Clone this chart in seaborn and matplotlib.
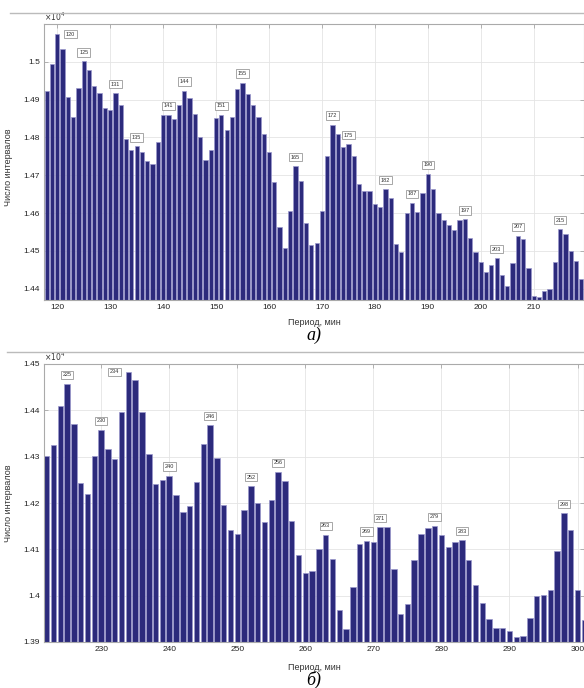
import numpy as np
import matplotlib
matplotlib.use("Agg")
import matplotlib.pyplot as plt
from matplotlib.lines import Line2D
from matplotlib.ticker import FuncFormatter
import seaborn as sns

# --- данные (а): периоды 118..219 мин
periods_a = list(range(118, 220))
counts_a = [14924, 14994, 15073, 15033, 14908, 14853, 14930, 15001, 14978, 14937,
            14917, 14878, 14873, 14917, 14887, 14797, 14768, 14776, 14761, 14737,
            14731, 14787, 14858, 14860, 14848, 14887, 14924, 14904, 14861, 14801,
            14741, 14768, 14852, 14860, 14820, 14855, 14928, 14945, 14915, 14886,
            14853, 14810, 14761, 14682, 14564, 14507, 14606, 14724, 14684, 14573,
            14516, 14520, 14606, 14750, 14834, 14808, 14774, 14782, 14750, 14678,
            14659, 14659, 14624, 14615, 14663, 14639, 14518, 14498, 14599, 14627,
            14603, 14652, 14704, 14663, 14599, 14582, 14568, 14555, 14582, 14583,
            14534, 14498, 14470, 14445, 14463, 14481, 14436, 14406, 14469, 14540,
            14531, 14454, 14381, 14377, 14395, 14399, 14471, 14557, 14544, 14500,
            14472, 14425]
peaks_a = [120, 125, 131, 135, 141, 144, 151, 155, 165, 172, 175, 182, 187, 190,
           197, 203, 207, 215]

# --- данные (б): периоды 222..301 мин
periods_b = list(range(222, 302))
counts_b = [14301, 14326, 14410, 14457, 14371, 14243, 14220, 14301, 14358, 14316,
            14295, 14397, 14483, 14466, 14397, 14305, 14241, 14249, 14259, 14218,
            14180, 14193, 14246, 14328, 14368, 14298, 14196, 14142, 14133, 14184,
            14236, 14201, 14160, 14206, 14267, 14247, 14162, 14088, 14050, 14054,
            14101, 14131, 14079, 13969, 13927, 14018, 14111, 14119, 14116, 14148,
            14148, 14057, 13961, 13982, 14076, 14133, 14147, 14151, 14131, 14104,
            14116, 14120, 14076, 14024, 13985, 13949, 13931, 13931, 13923, 13911,
            13912, 13952, 13999, 14001, 14012, 14097, 14178, 14142, 14013, 13947]
peaks_b = [225, 230, 234, 240, 246, 252, 256, 263, 269, 271, 279, 283, 298]

bar_color = "#2c2a7c"
edge_color = "#9a97cc"

plt.rcParams["font.family"] = ["Liberation Sans", "DejaVu Sans"]

fig = plt.figure(figsize=(5.84, 6.88), dpi=100)
W, H = 584, 688


def px_axes(left, top, right, bottom):
    return fig.add_axes([left / W, 1 - bottom / H, (right - left) / W, (bottom - top) / H])


def draw_panel(ax, periods, counts, peaks, xlim, ylim, xticks, yticks, special):
    sns.barplot(x=periods, y=counts, native_scale=True, width=0.8, color=bar_color,
                saturation=1, edgecolor=edge_color, linewidth=0.5, errorbar=None, ax=ax)
    ax.set_xlim(*xlim)
    ax.set_ylim(*ylim)
    ax.set_xticks(xticks)
    ax.set_yticks(yticks)
    ax.yaxis.set_major_formatter(FuncFormatter(lambda v, p: f"{v / 1e4:g}"))
    ax.set_axisbelow(True)
    ax.grid(True, color="#e4e4e4", lw=0.6)
    ax.tick_params(direction="in", top=True, right=True, length=3, width=0.5,
                   labelsize=6, colors="#999999", labelcolor="#222222", pad=3)
    for s in ax.spines.values():
        s.set_color("#aaaaaa")
        s.set_linewidth(0.8)
    lookup = dict(zip(periods, counts))
    for p in peaks:
        off = special.get(p, (0, 9))
        ax.annotate(str(p), (p, lookup[p]), xytext=off, textcoords="offset pixels",
                    ha="center", va="center", fontsize=4, color="#333333",
                    bbox=dict(boxstyle="square,pad=0.3", fc="white", ec="#999999", lw=0.6))
    ax.set_xlabel("Период, мин", fontsize=6.5, color="#333333")
    ax.set_ylabel("Число интервалов", fontsize=6.5, color="#333333")
    ax.text(0.0, 1.005, r"$\times10^{4}$", transform=ax.transAxes, fontsize=5.5,
            ha="left", va="bottom", color="#333333")


ax1 = px_axes(44, 24, 584, 300)
draw_panel(ax1, periods_a, counts_a, peaks_a, (117.5, 219.5), (14370, 15100),
           range(120, 211, 10), range(14400, 15001, 100), {120: (13, 0)})
ax1.xaxis.set_label_coords(0.5, -0.065)
ax1.yaxis.set_label_coords(-0.058, 0.48)

ax2 = px_axes(44, 364, 584, 642)
draw_panel(ax2, periods_b, counts_b, peaks_b, (221.6, 300.95), (13900, 14500),
           range(230, 301, 10), range(13900, 14501, 100), {234: (-14, 0)})
ax2.xaxis.set_label_coords(0.5, -0.075)
ax2.yaxis.set_label_coords(-0.058, 0.5)

# подписи панелей
fig.text(314 / W, 1 - 335 / H, "а)", fontsize=13, style="italic",
         family="Liberation Serif", ha="center", va="center")
fig.text(314 / W, 1 - 680 / H, "б)", fontsize=13, style="italic",
         family="Liberation Serif", ha="center", va="center")

# разделительные линии страницы
fig.add_artist(Line2D([10 / W, 1], [1 - 13 / H, 1 - 13 / H], color="#bbbbbb", lw=1))
fig.add_artist(Line2D([7 / W, 1], [1 - 352 / H, 1 - 352 / H], color="#bbbbbb", lw=1))

fig.savefig("out.png", dpi=100)
